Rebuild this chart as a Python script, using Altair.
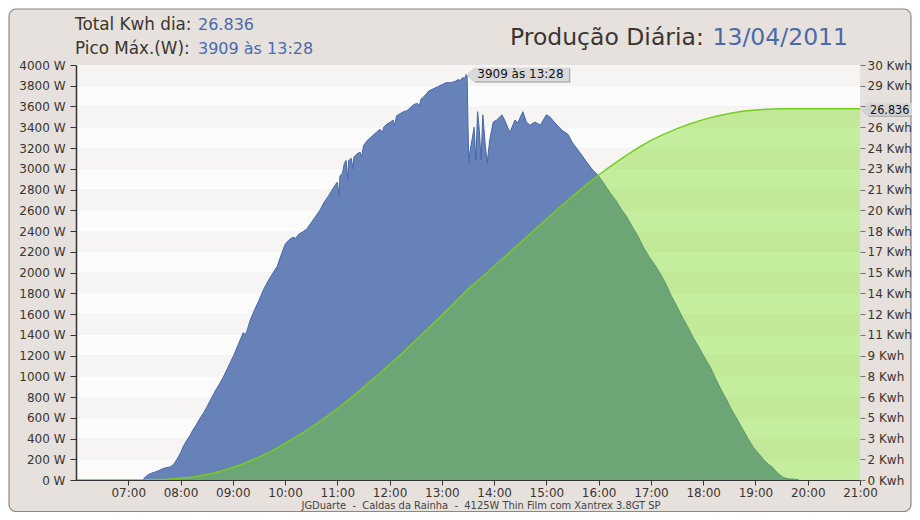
import altair as alt
import pandas as pd

# ---------------- data ----------------
p_times = ["07:17", "07:19", "07:22", "07:25", "07:30", "07:35", "07:40", "07:44", "07:48", "07:52",
           "07:56", "08:00", "08:03", "08:07", "08:11", "08:14", "08:18", "08:22", "08:26", "08:30",
           "08:35", "08:40", "08:45", "08:49", "08:53", "08:57", "09:01", "09:05", "09:09", "09:12",
           "09:14", "09:16", "09:20", "09:25", "09:30", "09:35", "09:40", "09:45", "09:51", "09:56",
           "10:00", "10:04", "10:09", "10:12", "10:16", "10:20", "10:25", "10:30", "10:35", "10:40",
           "10:45", "10:50", "10:55", "10:58", "11:00", "11:02", "11:03", "11:06", "11:08", "11:10",
           "11:12", "11:13", "11:16", "11:18", "11:19", "11:22", "11:26", "11:28", "11:30", "11:34",
           "11:38", "11:42", "11:46", "11:49", "11:52", "11:53", "11:57", "12:01", "12:04", "12:06",
           "12:08", "12:12", "12:16", "12:20", "12:24", "12:28", "12:32", "12:34", "12:36", "12:40",
           "12:45", "12:50", "12:55", "13:00", "13:05", "13:10", "13:15", "13:19", "13:21", "13:24",
           "13:26", "13:28", "13:29", "13:30", "13:31", "13:32", "13:35", "13:37", "13:39", "13:41",
           "13:43", "13:45", "13:47", "13:50", "13:52", "13:55", "13:59", "14:03", "14:09", "14:12",
           "14:18", "14:24", "14:27", "14:33", "14:37", "14:41", "14:47", "14:53", "15:00", "15:04",
           "15:10", "15:18", "15:25", "15:30", "15:39", "15:47", "15:53", "15:59", "16:05", "16:13",
           "16:20", "16:26", "16:32", "16:38", "16:45", "16:51", "16:58", "17:04", "17:10", "17:17",
           "17:23", "17:30", "17:36", "17:42", "17:48", "17:55", "18:01", "18:08", "18:14", "18:20",
           "18:27", "18:33", "18:40", "18:46", "18:52", "18:58", "19:05", "19:10", "19:15", "19:20",
           "19:25", "19:31", "19:35", "19:40", "19:45", "19:50"]
p_watts = [0, 25, 45, 60, 75, 90, 110, 120, 125, 150,
           200, 260, 320, 380, 430, 480, 530, 590, 640, 700,
           780, 860, 930, 990, 1060, 1130, 1200, 1280, 1360, 1420,
           1400, 1430, 1540, 1640, 1730, 1830, 1910, 1980, 2060, 2180,
           2270, 2310, 2340, 2330, 2370, 2390, 2420, 2480, 2540, 2600,
           2680, 2740, 2810, 2850, 2870, 2740, 2930, 2960, 3050, 3080,
           2900, 3080, 3100, 3000, 3110, 3140, 3160, 3120, 3220, 3270,
           3300, 3330, 3360, 3380, 3350, 3400, 3430, 3450, 3470, 3420,
           3510, 3530, 3550, 3560, 3590, 3620, 3630, 3600, 3670, 3700,
           3750, 3770, 3790, 3810, 3830, 3830, 3840, 3860, 3850, 3880,
           3870, 3909, 3890, 3400, 3055, 3150, 3300, 3400, 3085, 3550,
           3370, 3085, 3520, 3210, 3055, 3280, 3450, 3470, 3520, 3470,
           3350, 3470, 3440, 3550, 3450, 3420, 3450, 3420, 3520, 3500,
           3440, 3370, 3330, 3250, 3150, 3055, 2990, 2940, 2870, 2770,
           2690, 2610, 2540, 2450, 2350, 2250, 2150, 2080, 2000, 1890,
           1780, 1670, 1570, 1480, 1380, 1280, 1190, 1090, 980, 880,
           770, 670, 570, 480, 390, 310, 240, 190, 150, 120,
           70, 30, 15, 10, 8, 0]

e_times = ["06:00", "07:15", "07:45", "08:00", "08:15", "08:30", "08:45", "09:00", "09:15", "09:30",
           "09:45", "10:00", "10:15", "10:30", "10:45", "11:00", "11:15", "11:30", "11:45", "12:00",
           "12:15", "12:30", "12:45", "13:00", "13:15", "13:30", "13:45", "14:00", "14:15", "14:30",
           "14:45", "15:00", "15:15", "15:30", "15:45", "16:00", "16:15", "16:30", "16:45", "17:00",
           "17:15", "17:30", "17:45", "18:00", "18:15", "18:30", "18:45", "19:00", "19:15", "19:30",
           "19:45", "21:00"]
e_kwh = [0, 0, 0.05, 0.12, 0.22, 0.4, 0.62, 0.9, 1.25, 1.65,
         2.1, 2.65, 3.2, 3.8, 4.45, 5.15, 5.9, 6.7, 7.5, 8.35,
         9.2, 10.1, 11.0, 11.9, 12.85, 13.8, 14.6, 15.45, 16.3, 17.15,
         18.0, 18.85, 19.7, 20.5, 21.3, 22.05, 22.75, 23.4, 24.0, 24.55,
         25.0, 25.4, 25.75, 26.05, 26.3, 26.5, 26.65, 26.75, 26.8, 26.83,
         26.836, 26.836]

peak_time = "13:28"
peak_w = 3909
total_kwh = 26.836
end_time = "21:00"
day = "13/04/2011"

x_ticks = list(range(7, 22))
w_ticks = list(range(0, 4001, 200))
kwh_ticks = [i * 1.5 for i in range(21)]

header_labels = ["Total Kwh dia:", "Pico Máx.(W):"]
header_values = ["26.836", "3909 às 13:28"]
title_label = "Produção Diária:"
footer = "JGDuarte\u00a0\u00a0-\u00a0\u00a0Caldas da Rainha\u00a0\u00a0-\u00a0\u00a04125W Thin Film com Xantrex 3.8GT SP"


def to_h(t):
    hh, mm = t.split(":")
    return int(hh) + int(mm) / 60.0


power = pd.DataFrame({"h": [to_h(t) for t in p_times], "w": p_watts})
energy = pd.DataFrame({"h": [to_h(t) for t in e_times], "e": e_kwh})
peak = pd.DataFrame({"h": [to_h(peak_time)], "w": [peak_w], "t": [f"{peak_w} às {peak_time}"]})
endpt = pd.DataFrame({"h": [to_h(end_time)], "e": [total_kwh], "t": [f"{total_kwh:.3f}"]})
bands = pd.DataFrame({
    "lo": w_ticks[:-1],
    "hi": w_ticks[1:],
    "x0": [6] * (len(w_ticks) - 1),
    "x1": [21] * (len(w_ticks) - 1),
    "c": ["#f7f5f3" if i % 2 else "#fcfcfd" for i in range(len(w_ticks) - 1)],
})
one = pd.DataFrame({"k": [0]})

FONT = "DejaVu Sans"
DARK = "#3b3530"
BLUE = "#4a6aad"

xscale = alt.Scale(domain=[6, 21], nice=False, zero=False)
xaxis = alt.Axis(values=x_ticks, title=None, grid=False, zindex=1,
                 labelExpr="(datum.value < 10 ? '0' : '') + datum.value + ':00'",
                 tickSize=5, labelPadding=2, domainColor="#333333", tickColor="#333333",
                 labelFlush=False, labelOverlap=False)
wscale = alt.Scale(domain=[0, 4000], nice=False)
waxis = alt.Axis(values=w_ticks, title=None, grid=False, orient="left", zindex=1,
                 labelExpr="datum.value + ' W'", tickSize=6, labelPadding=5,
                 domainColor="#333333", domainWidth=1.5, tickColor="#333333",
                 labelOverlap=False, labelFlush=False)
escale = alt.Scale(domain=[0, 30], nice=False)
eaxis = alt.Axis(values=kwh_ticks, title=None, grid=False, orient="right", zindex=1,
                 labelExpr="datum.value == 27 ? '' : format(datum.value, '.0f') + ' Kwh'",
                 tickSize=5, labelPadding=2,
                 domain=False, tickColor="#777777", labelOverlap=False, labelFlush=False)

X = lambda f: alt.X(f, scale=xscale, axis=xaxis)
YW = lambda f: alt.Y(f, scale=wscale, axis=waxis)
YE = lambda f: alt.Y(f, scale=escale, axis=eaxis)

frame = alt.Chart(one).mark_rect(fill="#e6e1dc", stroke="#8c8782", strokeWidth=1.2,
                                 cornerRadius=7).encode(
    x=alt.value(-67), x2=alt.value(835), y=alt.value(-56), y2=alt.value(446.5))

band_layer = alt.Chart(bands).mark_rect().encode(
    x=X("x0:Q"), x2="x1:Q", y=YW("lo:Q"), y2="hi:Q",
    color=alt.Color("c:N", scale=None))

blue_area = alt.Chart(power).mark_area(color="#6782b8", opacity=1,
                                       line={"color": "#4866a8", "strokeWidth": 1}).encode(
    x=X("h:Q"), y=YW("w:Q"))

shadow_peak = "M1,1 L9,-6 L104,-6 L104,8 L9,8 Z"
box_peak = "M0,0 L8,-7 L103,-7 L103,7 L8,7 Z"
peak_shadow = alt.Chart(peak).mark_point(shape=shadow_peak, size=4, filled=True,
                                         color="#9a9a9a", opacity=1, strokeWidth=0).encode(
    x=X("h:Q"), y=YW("w:Q"))
peak_box = alt.Chart(peak).mark_point(shape=box_peak, size=4, filled=True,
                                      color="#d9d9d9", opacity=1, strokeWidth=0).encode(
    x=X("h:Q"), y=YW("w:Q"))
peak_text = alt.Chart(peak).mark_text(align="left", baseline="middle", dx=11, dy=0,
                                      font=FONT, fontSize=12, color="#111111").encode(
    x=X("h:Q"), y=YW("w:Q"), text="t:N")


def txt(s, x, y, size, color, align="left"):
    return alt.Chart(one).mark_text(align=align, baseline="alphabetic", font=FONT,
                                    fontSize=size, color=color).encode(
        x=alt.value(x), y=alt.value(y), text=alt.value(s))


texts = [
    txt(header_labels[0], -1, -35, 16.8, DARK),
    txt(header_values[0], 122, -35, 16, BLUE),
    txt(header_labels[1], -1, -11, 16.8, DARK),
    txt(header_values[1], 122, -11, 16, BLUE),
    txt(title_label, 434, -20, 23.5, DARK),
    txt(day, 772, -20, 23.5, BLUE, align="right"),
    alt.Chart(one).mark_text(align="center", baseline="alphabetic", font="DejaVu Sans Condensed",
                             fontSize=11, color="#444444").encode(
        x=alt.value(405), y=alt.value(444), text=alt.value(footer)),
]

left = alt.layer(frame, band_layer, blue_area, peak_shadow, peak_box, peak_text, *texts)

green_area = alt.Chart(energy).mark_area(color="#77d91a", opacity=0.42).encode(
    x=X("h:Q"), y=YE("e:Q"))
green_line = alt.Chart(energy).mark_line(color="#77cc22", strokeWidth=1.5).encode(
    x=X("h:Q"), y=YE("e:Q"))
end_shadow = alt.Chart(endpt).mark_point(shape="M1,1 L9,-5 L59,-5 L59,8 L9,8 Z", size=4,
                                         filled=True, color="#9a9a9a", opacity=0.9,
                                         strokeWidth=0).encode(x=X("h:Q"), y=YE("e:Q"))
end_box = alt.Chart(endpt).mark_point(shape="M0,0 L8,-6 L58,-6 L58,7 L8,7 Z", size=4,
                                      filled=True, color="#d9d9d9", opacity=0.9,
                                      strokeWidth=0).encode(x=X("h:Q"), y=YE("e:Q"))
end_text = alt.Chart(endpt).mark_text(align="left", baseline="middle", dx=10, dy=1,
                                      font="DejaVu Sans Condensed", fontSize=12.5,
                                      color="#111111").encode(
    x=X("h:Q"), y=YE("e:Q"), text="t:N")

right = alt.layer(green_area, green_line, end_shadow, end_box, end_text)

chart = alt.layer(left, right).resolve_scale(y="independent").properties(
    width=784, height=415,
    autosize=alt.AutoSizeParams(type="none"),
    padding={"left": 68, "top": 57, "right": 52, "bottom": 32},
    background="white",
).configure_view(stroke=None).configure_axis(
    labelFont=FONT, labelFontSize=12, labelColor=DARK)

chart.save("out.html", embed_options={"renderer": "svg", "actions": False})
